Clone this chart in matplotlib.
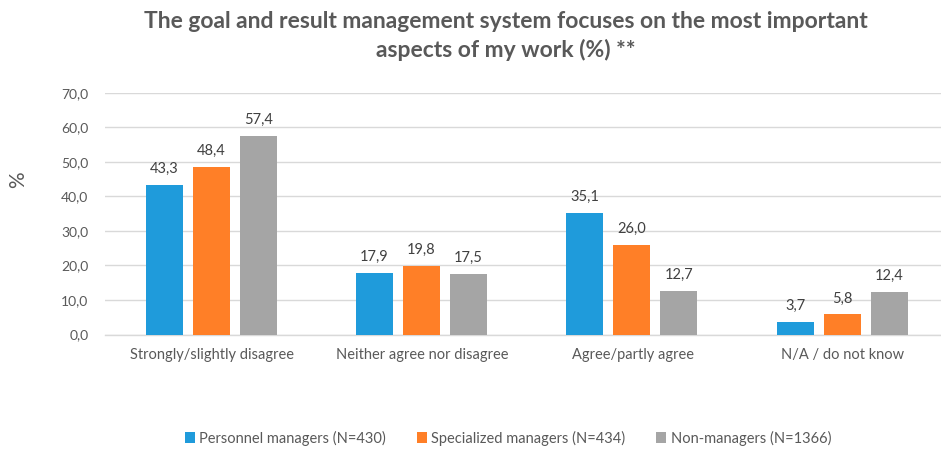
import matplotlib
matplotlib.use("Agg")
import matplotlib.pyplot as plt
import numpy as np

categories = ["Strongly/slightly disagree", "Neither agree nor disagree", "Agree/partly agree", "N/A / do not know"]
series_names = ["Personnel managers (N=430)", "Specialized managers (N=434)", "Non-managers (N=1366)"]
personnel = [43.3, 17.9, 35.1, 3.7]
specialized = [48.4, 19.8, 26.0, 5.8]
non_managers = [57.4, 17.5, 12.7, 12.4]
colors = ["#1F9BDB", "#FF7F27", "#A5A5A5"]
yticks = [0, 10, 20, 30, 40, 50, 60, 70]

plt.rcParams['font.family'] = ['Lato', 'DejaVu Sans']

fig = plt.figure(figsize=(9.41, 4.49), dpi=100)
ax = fig.add_axes([105/941, 114.5/449, 1 - 105/941, (356.3-114.5)/449])

x = np.arange(len(categories))
width = 0.175
offset = 0.2235
textc = "#404040"
for i, (vals, name) in enumerate(zip([personnel, specialized, non_managers], series_names)):
    bars = ax.bar(x + (i-1)*offset - 0.004, vals, width, color=colors[i], label=name, zorder=3)
    for b, v in zip(bars, vals):
        ax.text(b.get_x() + b.get_width()/2, v + 2.6, f"{v:.1f}".replace(".", ","),
                ha="center", va="bottom", fontsize=10.5, color=textc)

ax.set_xlim(-0.509, 3.466)
ax.set_ylim(0, 70)
ax.set_yticks(yticks)
ax.set_yticklabels([f"{t:.1f}".replace(".", ",") for t in yticks], fontsize=10, color="#595959")
ax.set_xticks(x)
ax.set_xticklabels(categories, fontsize=10.5, color="#595959")
ax.tick_params(axis="both", length=0)
ax.tick_params(axis="y", pad=12)
ax.tick_params(axis="x", pad=10)
ax.yaxis.grid(True, color="#D9D9D9", linewidth=1, zorder=0)
for s in ["top", "right", "left"]:
    ax.spines[s].set_visible(False)
ax.spines["bottom"].set_color("#D9D9D9")
ax.spines["bottom"].set_linewidth(1)

fig.text(18/941, 1 - 180/449, "%", rotation=90, fontsize=15, color="#595959", ha="center", va="center")
fig.text(506/941, 1 - 36/449, "The goal and result management system focuses on the most important\naspects of my work (%) **",
         ha="center", va="center", fontsize=16.5, fontweight="bold", color="#595959", linespacing=1.42)

fig.legend(loc="center", bbox_to_anchor=(508/941, 1 - 438/449), ncol=3, frameon=False, fontsize=10.5,
           handlelength=0.7, handleheight=0.7, handletextpad=0.3, columnspacing=2.1,
           labelcolor="#595959")

fig.savefig("out.png", dpi=100)
